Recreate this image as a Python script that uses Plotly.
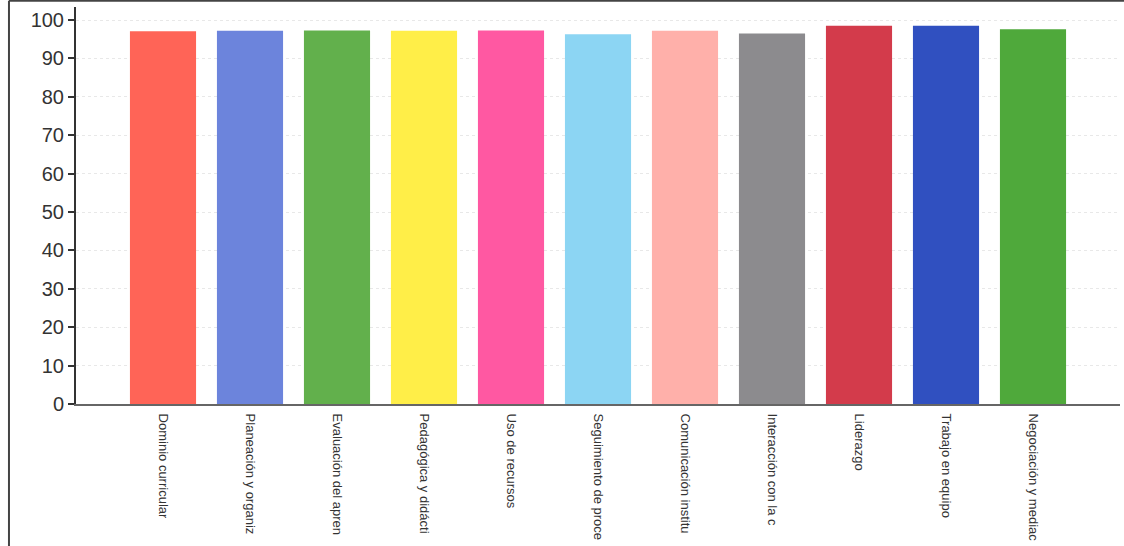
import plotly.graph_objects as go

categories = ["Dominio curricular", "Planeación y organiz", "Evaluación del apren",
              "Pedagógica y didácti", "Uso de recursos", "Seguimiento de proce",
              "Comunicación institu", "Interacción con la c", "Liderazgo",
              "Trabajo en equipo", "Negociación y mediac"]
values = [97.1, 97.2, 97.3, 97.2, 97.3, 96.3, 97.2, 96.5, 98.5, 98.5, 97.6]
colors = ["#FF6457", "#6C84DC", "#62B04C", "#FFEE48", "#FF58A2", "#8CD5F3",
          "#FFB0AA", "#8C8B8E", "#D33B4B", "#3050C0", "#4FA93B"]
y_ticks = [0, 10, 20, 30, 40, 50, 60, 70, 80, 90, 100]

fig = go.Figure(go.Bar(
    x=list(range(len(categories))), y=values,
    marker=dict(color=colors, line=dict(width=0)),
    width=0.76,
))

fig.update_layout(
    width=1124, height=546,
    margin=dict(l=76, r=4, t=7, b=142, autoexpand=False),
    paper_bgcolor="white", plot_bgcolor="white",
    font=dict(family="Liberation Sans, Arial, sans-serif", color="#333"),
    showlegend=False,
)
fig.update_xaxes(
    range=[-1, 11], tickmode="array",
    tickvals=list(range(len(categories))), ticktext=categories,
    tickangle=90, tickfont=dict(size=13, color="#333"),
    ticklabelstandoff=5,
    showline=True, linecolor="#666", linewidth=2,
    showgrid=False, zeroline=False, ticks="", automargin=False,
)
fig.update_yaxes(
    range=[0, 103.4], tickvals=y_ticks,
    tickfont=dict(size=20, color="#333"),
    showline=True, linecolor="#333", linewidth=2,
    ticks="outside", ticklen=6, tickcolor="#333", tickwidth=2,
    showgrid=True, gridcolor="#e8e8e8", griddash="dot", gridwidth=1,
    zeroline=False, automargin=False,
)
# scanned frame around the chart
fig.add_shape(type="line", xref="paper", yref="paper",
              x0=-0.0642, x1=-0.0642, y0=-0.36, y1=1.016,
              line=dict(color="#444", width=2))
fig.add_shape(type="line", xref="paper", yref="paper",
              x0=-0.0642, x1=1.01, y0=1.016, y1=1.016,
              line=dict(color="#444", width=2))

fig.write_html("out.html", config={"displayModeBar": False},
               post_script="document.body.style.margin='0';")
